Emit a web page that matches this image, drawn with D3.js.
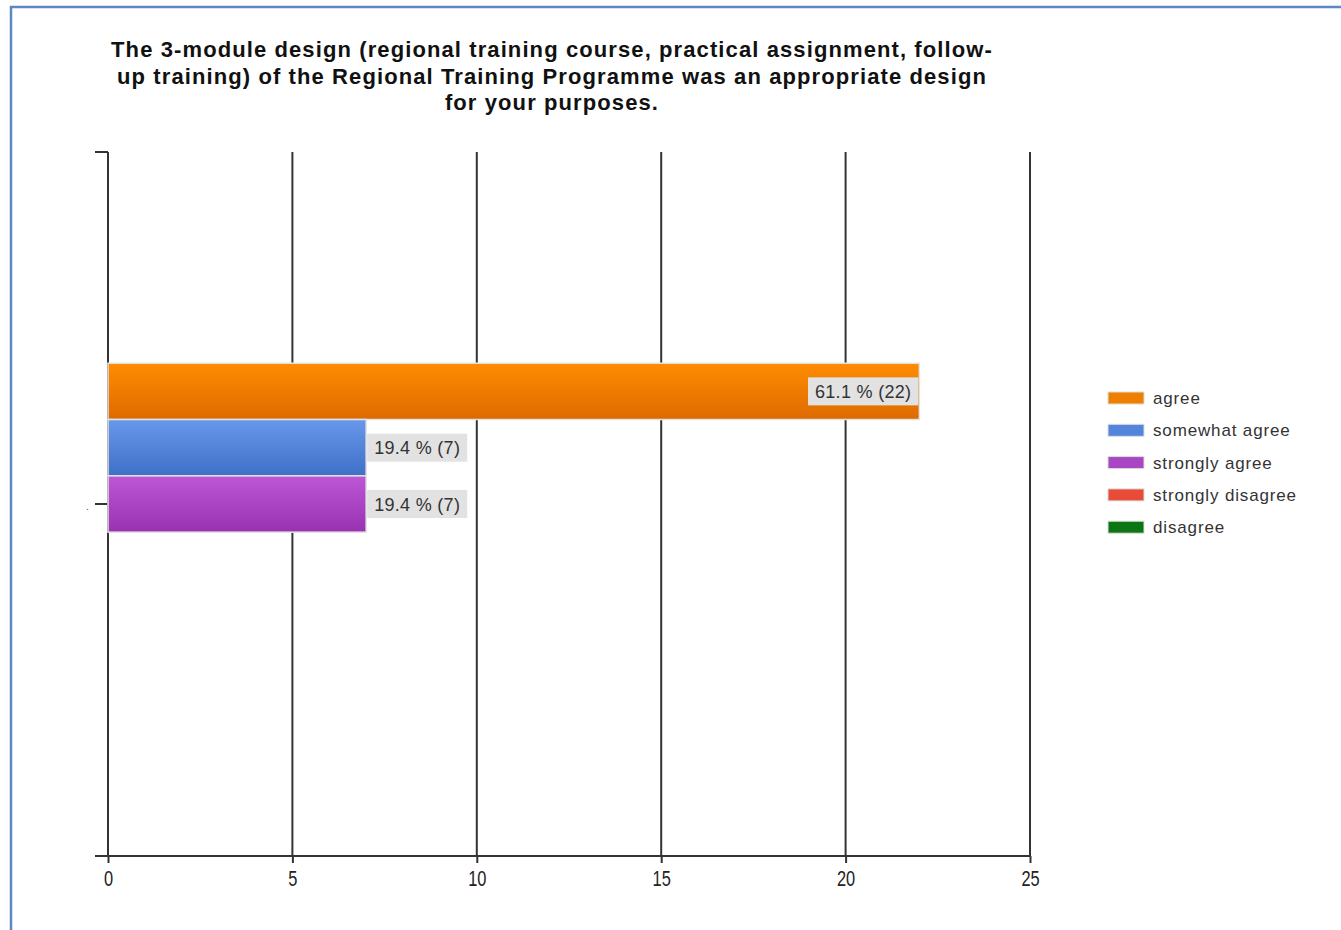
<!DOCTYPE html>
<html>
<head>
<meta charset="utf-8">
<script src="https://cdn.jsdelivr.net/npm/d3@7"></script>
<style>
  html, body { margin: 0; padding: 0; background: #fff; }
  svg { display: block; }
</style>
</head>
<body>
<svg id="chart" width="1341" height="930"></svg>
<script>
// Survey responses for one question
const categories = ["."];
const seriesNames = ["agree", "somewhat agree", "strongly agree", "strongly disagree", "disagree"];
const seriesCounts = [22, 7, 7, 0, 0];
const seriesPercents = [61.1, 19.4, 19.4, 0, 0];
const seriesColors = [
  ["#ff8c00", "#dd6a00"],
  ["#6898ea", "#3e70c8"],
  ["#bd57d6", "#9832b0"],
  ["#f25a44", "#dc3f2a"],
  ["#10881a", "#0a6a12"]
];
const legendColors = ["#ef7f00", "#5385dc", "#aa45c4", "#e84c37", "#0c7514"];
const xTicks = [0, 5, 10, 15, 20, 25];
const titleLines = [
  "The 3-module design (regional training course, practical assignment, follow-",
  "up training) of the Regional Training Programme was an appropriate design",
  "for your purposes."
];

const svg = d3.select("#chart");

// outer frame
svg.append("path")
  .attr("d", "M11,930 V7 H1341")
  .attr("fill", "none")
  .attr("stroke", "#5b87c2")
  .attr("stroke-width", 2.5);

// title
svg.append("g").selectAll("text").data(titleLines).join("text")
  .attr("x", 552)
  .attr("y", (d, i) => 57 + i * 26.5)
  .attr("text-anchor", "middle")
  .attr("font-family", "'Liberation Sans', Arial, sans-serif")
  .attr("font-weight", "bold")
  .attr("font-size", 22)
  .attr("letter-spacing", 1.1)
  .attr("fill", "#111")
  .text(d => d);

const plot = { left: 108, right: 1030, top: 152, bottom: 856 };

const x = d3.scaleLinear().domain([0, 25]).range([plot.left, plot.right]);
const yCat = d3.scaleBand().domain(categories).range([plot.top, plot.bottom]);
// series share the middle 40% of the category band
const ySeries = d3.scaleBand().domain(seriesNames)
  .range([yCat(".") + yCat.bandwidth() * 0.3, yCat(".") + yCat.bandwidth() * 0.7]);

// vertical gridlines
svg.append("g").selectAll("line").data(xTicks.slice(1)).join("line")
  .attr("x1", d => x(d)).attr("x2", d => x(d))
  .attr("y1", plot.top).attr("y2", plot.bottom)
  .attr("stroke", "#333").attr("stroke-width", 2);

// bottom axis
const xAxis = svg.append("g")
  .attr("transform", `translate(0,${plot.bottom})`)
  .call(d3.axisBottom(x).tickValues(xTicks).tickSize(7).tickPadding(0));
xAxis.select(".domain").remove();
xAxis.selectAll(".tick line").attr("stroke", "#333").attr("stroke-width", 2);
// condensed tick digits
xAxis.selectAll(".tick text")
  .attr("y", 0).attr("dy", null)
  .attr("transform", "translate(0,30) scale(0.82,1.08)")
  .attr("font-family", "'Liberation Sans', Arial, sans-serif")
  .attr("font-size", 20)
  .attr("fill", "#222");
svg.append("line")
  .attr("x1", 95).attr("x2", plot.right)
  .attr("y1", plot.bottom).attr("y2", plot.bottom)
  .attr("stroke", "#333").attr("stroke-width", 2);

// left axis
svg.append("line")
  .attr("x1", plot.left).attr("x2", plot.left)
  .attr("y1", plot.top).attr("y2", plot.bottom)
  .attr("stroke", "#333").attr("stroke-width", 2);
svg.append("g").selectAll("line").data([plot.top, yCat(".") + yCat.bandwidth() / 2]).join("line")
  .attr("x1", 95).attr("x2", plot.left)
  .attr("y1", d => d).attr("y2", d => d)
  .attr("stroke", "#333").attr("stroke-width", 2);
svg.append("text")
  .attr("x", 86).attr("y", yCat(".") + yCat.bandwidth() / 2 + 6)
  .attr("font-family", "'Liberation Sans', Arial, sans-serif")
  .attr("font-size", 10).attr("fill", "#555")
  .text(categories[0]);

// gradients
const defs = svg.append("defs");
seriesNames.forEach((s, i) => {
  const g = defs.append("linearGradient")
    .attr("id", "grad" + i).attr("x1", 0).attr("x2", 0).attr("y1", 0).attr("y2", 1);
  g.append("stop").attr("offset", "0%").attr("stop-color", seriesColors[i][0]);
  g.append("stop").attr("offset", "100%").attr("stop-color", seriesColors[i][1]);
});

const data = seriesNames.map((s, i) => ({ name: s, count: seriesCounts[i], pct: seriesPercents[i], i }));
const shown = data.filter(d => d.count > 0);

// bars
svg.append("g").selectAll("rect").data(shown).join("rect")
  .attr("x", x(0))
  .attr("y", d => ySeries(d.name))
  .attr("width", d => x(d.count) - x(0))
  .attr("height", ySeries.bandwidth())
  .attr("fill", d => `url(#grad${d.i})`)
  .attr("stroke", "#e4e4e4").attr("stroke-width", 1.5);

// value labels
const labelFont = "'Liberation Sans', Arial, sans-serif";
const lg = svg.append("g");
shown.forEach(d => {
  const txt = `${d.pct.toFixed(1)} % (${d.count})`;
  const t = lg.append("text")
    .attr("font-family", labelFont).attr("font-size", 18).attr("fill", "#333")
    .attr("letter-spacing", 0.3)
    .text(txt);
  const w = t.node().getComputedTextLength();
  const boxW = w + 14, boxH = 28;
  const cy = ySeries(d.name) + ySeries.bandwidth() / 2;
  const end = x(d.count);
  const inside = (end - x(0)) > 300;
  const bx = inside ? end - boxW - 1 : end + 1;
  lg.insert("rect", "text")
    .attr("x", bx).attr("y", cy - boxH / 2)
    .attr("width", boxW).attr("height", boxH)
    .attr("fill", "#e2e2e2");
  t.attr("x", bx + 7).attr("y", cy + 6.5);
});

// legend
const legend = svg.append("g").attr("transform", "translate(1108,398)");
const li = legend.selectAll("g").data(data).join("g")
  .attr("transform", (d, i) => `translate(0,${i * 32.3})`);
li.append("rect")
  .attr("x", 0).attr("y", -6).attr("width", 36).attr("height", 12)
  .attr("fill", d => legendColors[d.i])
  .attr("stroke", "#ddd").attr("stroke-width", 1);
li.append("text")
  .attr("x", 45).attr("y", 6)
  .attr("font-family", labelFont).attr("font-size", 17).attr("fill", "#333")
  .attr("letter-spacing", 0.85)
  .text(d => d.name);
</script>
</body>
</html>
